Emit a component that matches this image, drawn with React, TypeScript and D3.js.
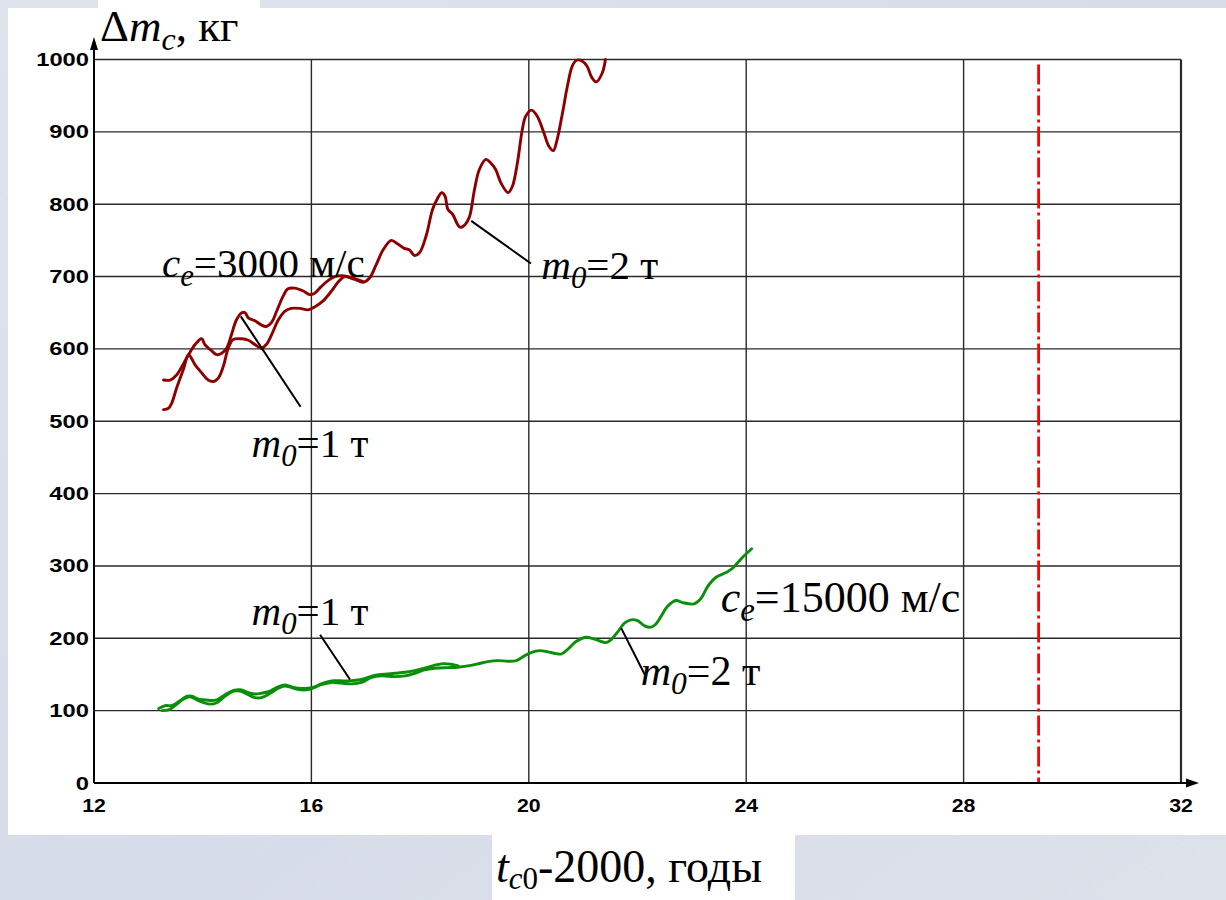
import React from "react";
import * as d3 from "d3";

// ---------- data ----------
const xTicks = [12, 16, 20, 24, 28, 32];
const yTicks = [0, 100, 200, 300, 400, 500, 600, 700, 800, 900, 1000];
const limitYear = 29.38;

// c_e = 3000 m/s, m0 = 1 t
const red1: [number, number][] = [
  [13.28, 557], [13.4, 557], [13.52, 564], [13.65, 580], [13.74, 592], [13.86, 606], [13.98, 614],
  [14.04, 606], [14.17, 597], [14.26, 592], [14.35, 594], [14.44, 601], [14.53, 620], [14.62, 640],
  [14.72, 650], [14.78, 650], [14.84, 643], [14.96, 639], [15.08, 633], [15.17, 631], [15.27, 637],
  [15.36, 652], [15.48, 673], [15.57, 683], [15.69, 684], [15.85, 680], [15.97, 675], [16.06, 677],
  [16.18, 686], [16.3, 694], [16.43, 700], [16.61, 701], [16.8, 697], [16.95, 693],
];
// c_e = 3000 m/s, m0 = 2 t
const red2: [number, number][] = [
  [13.28, 516], [13.37, 518], [13.43, 525], [13.52, 546], [13.65, 573], [13.74, 592], [13.86, 578],
  [13.98, 567], [14.1, 557], [14.2, 555], [14.29, 560], [14.38, 576], [14.47, 601], [14.56, 613],
  [14.72, 614], [14.84, 612], [14.96, 606], [15.08, 601], [15.17, 606], [15.27, 620], [15.39, 640],
  [15.51, 652], [15.63, 656], [15.79, 656], [15.94, 654], [16.06, 658], [16.21, 666], [16.37, 680],
  [16.5, 693], [16.61, 700], [16.8, 696], [16.95, 692], [17.07, 698], [17.19, 716], [17.32, 737],
  [17.47, 750], [17.59, 745], [17.71, 739], [17.8, 737], [17.9, 729], [17.99, 733], [18.11, 756],
  [18.23, 793], [18.32, 808], [18.4, 816], [18.46, 811], [18.51, 793], [18.6, 786], [18.69, 772],
  [18.74, 768], [18.83, 772], [18.91, 783], [19.0, 820], [19.09, 848], [19.21, 862], [19.3, 857],
  [19.39, 848], [19.49, 829], [19.62, 816], [19.7, 825], [19.79, 857], [19.88, 903], [19.94, 921],
  [20.05, 930], [20.16, 921], [20.28, 898], [20.37, 880], [20.45, 874], [20.52, 889], [20.62, 926],
  [20.71, 963], [20.8, 991], [20.88, 999], [20.98, 998], [21.07, 991], [21.16, 975], [21.24, 969],
  [21.35, 981], [21.41, 1000],
];
// c_e = 15000 m/s, m0 = 1 t
const green1: [number, number][] = [
  [13.19, 103], [13.31, 107], [13.43, 107], [13.56, 112.5], [13.71, 120], [13.8, 120], [13.92, 116],
  [14.02, 115], [14.14, 114], [14.26, 115], [14.41, 122], [14.57, 128], [14.69, 129], [14.84, 125],
  [14.96, 123], [15.08, 124], [15.24, 127], [15.39, 133], [15.51, 135.5], [15.63, 133], [15.76, 131],
  [15.94, 131], [16.06, 133], [16.18, 137], [16.31, 140], [16.43, 141.5], [16.62, 141], [16.74, 141.5],
  [16.92, 143], [17.11, 147.7], [17.29, 150], [17.53, 151.7], [17.72, 153], [17.9, 155.4], [18.08, 158.6],
  [18.27, 162.8], [18.42, 165], [18.57, 164.2], [18.7, 161.8],
];
// c_e = 15000 m/s, m0 = 2 t
const green2: [number, number][] = [
  [13.25, 100], [13.37, 101], [13.49, 107], [13.65, 116], [13.77, 119], [13.89, 115], [14.02, 111],
  [14.14, 109], [14.26, 111], [14.41, 120], [14.57, 127], [14.69, 127], [14.84, 122], [14.96, 118],
  [15.08, 118], [15.24, 124], [15.39, 131], [15.51, 134], [15.63, 132], [15.76, 129], [15.94, 129],
  [16.06, 132], [16.18, 136], [16.37, 139], [16.55, 138], [16.74, 137], [16.92, 139], [17.11, 146],
  [17.29, 148], [17.53, 147], [17.72, 148], [17.9, 151.7], [18.08, 156.3], [18.27, 158.6], [18.5, 159.5],
  [18.7, 160], [18.88, 161.8], [19.06, 164.6], [19.25, 167.8], [19.43, 169.2], [19.62, 168.3],
  [19.77, 169.2], [19.92, 175.7], [20.04, 180.2], [20.2, 183], [20.35, 181.2], [20.47, 179.4],
  [20.6, 178.4], [20.72, 185], [20.87, 195.5], [21.05, 201.5], [21.21, 198.8], [21.42, 194.1],
  [21.51, 197.8], [21.64, 209.3], [21.76, 220.9], [21.88, 225.5], [22.0, 224.5], [22.13, 217.2],
  [22.25, 215.4], [22.34, 219.9], [22.43, 230], [22.55, 243.9], [22.71, 252.2], [22.83, 249.4],
  [23.04, 247.6], [23.17, 255.4], [23.29, 271.5], [23.44, 284], [23.63, 290.9], [23.75, 296.9],
  [23.9, 309.4], [24.1, 323.7],
];

// pointer lines (data units): [t1, v1, t2, v2]
const pointers: [number, number, number, number][] = [
  [14.7, 645, 15.8, 520],
  [18.94, 777, 20.04, 718],
  [16.16, 205, 16.71, 143],
  [21.7, 214, 22.14, 149],
];

// ---------- layout ----------
const W = 1226;
const H = 900;
const x = d3.scaleLinear().domain([12, 32]).range([94, 1181]);
const y = d3.scaleLinear().domain([0, 1000]).range([783, 59.5]);

const line = d3
  .line<[number, number]>()
  .x((d) => x(d[0]))
  .y((d) => y(d[1]))
  .curve(d3.curveCatmullRom.alpha(0.5));

const serif = "'Liberation Serif', 'Times New Roman', serif";
const sans = "'Liberation Sans', Arial, sans-serif";

const RED = "#8e0000";
const GREEN = "#0a8f0a";

function MLabel({ t, v, num, size = 40 }: { t: number; v: number; num: string; size?: number }) {
  return (
    <text x={x(t)} y={y(v)} fontFamily={serif} fontSize={size} fill="#000">
      <tspan fontStyle="italic">m</tspan>
      <tspan fontStyle="italic" fontSize={size * 0.75} dy={9}>0</tspan>
      <tspan dy={-9}>={num} т</tspan>
    </text>
  );
}

function CLabel({ t, v, num, size = 40 }: { t: number; v: number; num: string; size?: number }) {
  return (
    <text x={x(t)} y={y(v)} fontFamily={serif} fontSize={size} fill="#000">
      <tspan fontStyle="italic">c</tspan>
      <tspan fontStyle="italic" fontSize={size * 0.75} dy={9}>e</tspan>
      <tspan dy={-9}>={num} м/с</tspan>
    </text>
  );
}

export default function App() {
  const x0 = x(12);
  const x1 = x(32);
  const y0 = y(0);
  const y1 = y(1000);
  return (
    <svg
      width={W}
      height={H}
      style={{ position: "absolute", left: 0, top: 0, display: "block" }}
    >
      <defs>
        <linearGradient id="bg" x1="0" y1="0" x2="1" y2="1">
          <stop offset="0" stopColor="#dfe3ec" />
          <stop offset="0.5" stopColor="#d6dce8" />
          <stop offset="1" stopColor="#dde1ea" />
        </linearGradient>
      </defs>
      <rect x={0} y={0} width={W} height={H} fill="url(#bg)" />
      {/* white panels */}
      <rect x={8} y={8} width={W - 8} height={827} fill="#fff" />
      <rect x={98} y={0} width={162} height={20} fill="#fff" />
      <rect x={492} y={835} width={303} height={65} fill="#fff" />

      {/* grid */}
      <g stroke="#2a2a2a" strokeWidth={1.4}>
        {yTicks
          .filter((v) => v > 0)
          .map((v) => (
            <line key={"h" + v} x1={x0} x2={x1} y1={y(v)} y2={y(v)} />
          ))}
        {xTicks
          .filter((t) => t > 12)
          .map((t) => (
            <line key={"v" + t} x1={x(t)} x2={x(t)} y1={y1} y2={y0} strokeWidth={t === 32 ? 2.2 : 1.4} />
          ))}
      </g>

      {/* limit line */}
      <line
        x1={x(limitYear)}
        x2={x(limitYear)}
        y1={y1 + 5}
        y2={y0}
        stroke="#ff0000"
        strokeWidth={2.8}
        strokeDasharray="20,4,3,4"
      />

      {/* axes */}
      <g stroke="#000" strokeWidth={2}>
        <line x1={x0} x2={x0} y1={y0} y2={46} />
        <line x1={x0} x2={1190} y1={y0} y2={y0} />
      </g>
      <path d={`M${x0},37 L${x0 - 4},50 L${x0 + 4},50 Z`} fill="#000" />
      <path d={`M1199,${y0} L1186,${y0 - 4.5} L1186,${y0 + 4.5} Z`} fill="#000" />

      {/* tick labels */}
      <g fontFamily={sans} fontWeight="bold" fontSize={18} fill="#000">
        {yTicks.map((v) => (
          <text
            key={"yl" + v}
            transform={`translate(${x0 - 5},${y(v) + 6.5}) scale(1.32,1)`}
            textAnchor="end"
          >
            {v}
          </text>
        ))}
        {xTicks.map((t) => (
          <text
            key={"xl" + t}
            transform={`translate(${x(t)},${y0 + 29}) scale(1.12,1)`}
            textAnchor="middle"
            fontSize={19}
          >
            {t}
          </text>
        ))}
      </g>

      {/* curves */}
      <g fill="none" strokeWidth={2.9} strokeLinejoin="round" strokeLinecap="round">
        <path d={line(red1) || ""} stroke={RED} />
        <path d={line(red2) || ""} stroke={RED} />
        <path d={line(green1) || ""} stroke={GREEN} />
        <path d={line(green2) || ""} stroke={GREEN} />
      </g>

      {/* pointers */}
      <g stroke="#000" strokeWidth={2}>
        {pointers.map((p, i) => (
          <line key={"p" + i} x1={x(p[0])} y1={y(p[1])} x2={x(p[2])} y2={y(p[3])} />
        ))}
      </g>

      {/* annotations */}
      <CLabel t={13.25} v={700} num="3000" size={41} />
      <MLabel t={20.23} v={697} num="2" size={41} />
      <MLabel t={14.9} v={450} num="1" size={41} />
      <MLabel t={14.9} v={219} num="1" size={41} />
      <CLabel t={23.53} v={236} num="15000" size={44} />
      <MLabel t={22.06} v={135} num="2" size={42} />

      {/* axis titles */}
      <text x={100} y={41} fontFamily={serif} fontSize={45} fill="#000">
        <tspan>Δ</tspan>
        <tspan fontStyle="italic">m</tspan>
        <tspan fontStyle="italic" fontSize={32} dy={9}>c</tspan>
        <tspan dy={-9}>, кг</tspan>
      </text>
      <text x={496} y={882} fontFamily={serif} fontSize={46} fill="#000">
        <tspan fontStyle="italic">t</tspan>
        <tspan fontSize={31} dy={7}>
          <tspan fontStyle="italic">c</tspan>0
        </tspan>
        <tspan dy={-7}>-2000, годы</tspan>
      </text>
    </svg>
  );
}
